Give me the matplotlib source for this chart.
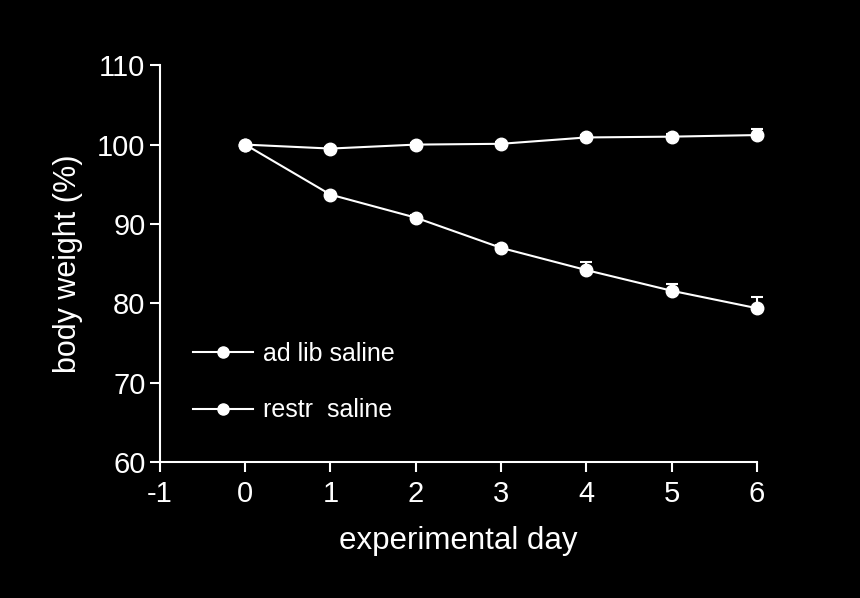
import matplotlib
matplotlib.use('Agg')
import matplotlib.pyplot as plt
from matplotlib.lines import Line2D

plt.rcParams['font.family'] = ['Liberation Sans', 'DejaVu Sans']
plt.rcParams['axes.unicode_minus'] = False

days = [0, 1, 2, 3, 4, 5, 6]
adlib = [100.0, 99.5, 100.0, 100.1, 100.9, 101.0, 101.2]
adlib_err = [0.0, 0.2, 0.2, 0.2, 0.3, 0.3, 0.8]
restr = [100.0, 93.7, 90.8, 87.0, 84.2, 81.6, 79.4]
restr_err = [0.0, 0.3, 0.3, 0.4, 1.0, 0.9, 1.4]

fig = plt.figure(figsize=(8.6, 5.98), dpi=100, facecolor='black')
ax = fig.add_axes([0.186, 0.227, 0.694, 0.664])
ax.set_facecolor('black')

handles = []
labels = ['ad lib saline', 'restr  saline']
for vals, err in [(adlib, adlib_err), (restr, restr_err)]:
    ax.errorbar(days, vals, yerr=[[0] * len(err), err], color='white', lw=1.5,
                marker='o', ms=9, mfc='white', mec='white', capsize=4.5,
                elinewidth=1.5, capthick=1.5, clip_on=False)
    handles.append(Line2D([], [], color='white', lw=1.5, marker='o', ms=8,
                          mfc='white', mec='white'))

ax.set_xlim(-1, 6)
ax.set_ylim(60, 110)
ax.set_xticks(range(-1, 7))
ax.set_yticks(range(60, 111, 10))
for s in ['top', 'right']:
    ax.spines[s].set_visible(False)
for s in ['left', 'bottom']:
    ax.spines[s].set_color('white')
    ax.spines[s].set_linewidth(1.5)
ax.tick_params(colors='white', labelsize=21, width=1.5, length=7, direction='out')
ax.tick_params(axis='x', pad=6)
ax.set_xlabel('experimental day', color='white', fontsize=22.5, labelpad=13)
ax.set_ylabel('body weight (%)', color='white', fontsize=22, labelpad=10)

leg = ax.legend(handles, labels, loc='upper left', bbox_to_anchor=(0.213, 0.445),
                bbox_transform=fig.transFigure, frameon=False, fontsize=18,
                handlelength=2.4, labelspacing=1.3, handletextpad=0.4, borderaxespad=0)
for t in leg.get_texts():
    t.set_color('white')

fig.savefig('out.png', dpi=100, facecolor='black')
